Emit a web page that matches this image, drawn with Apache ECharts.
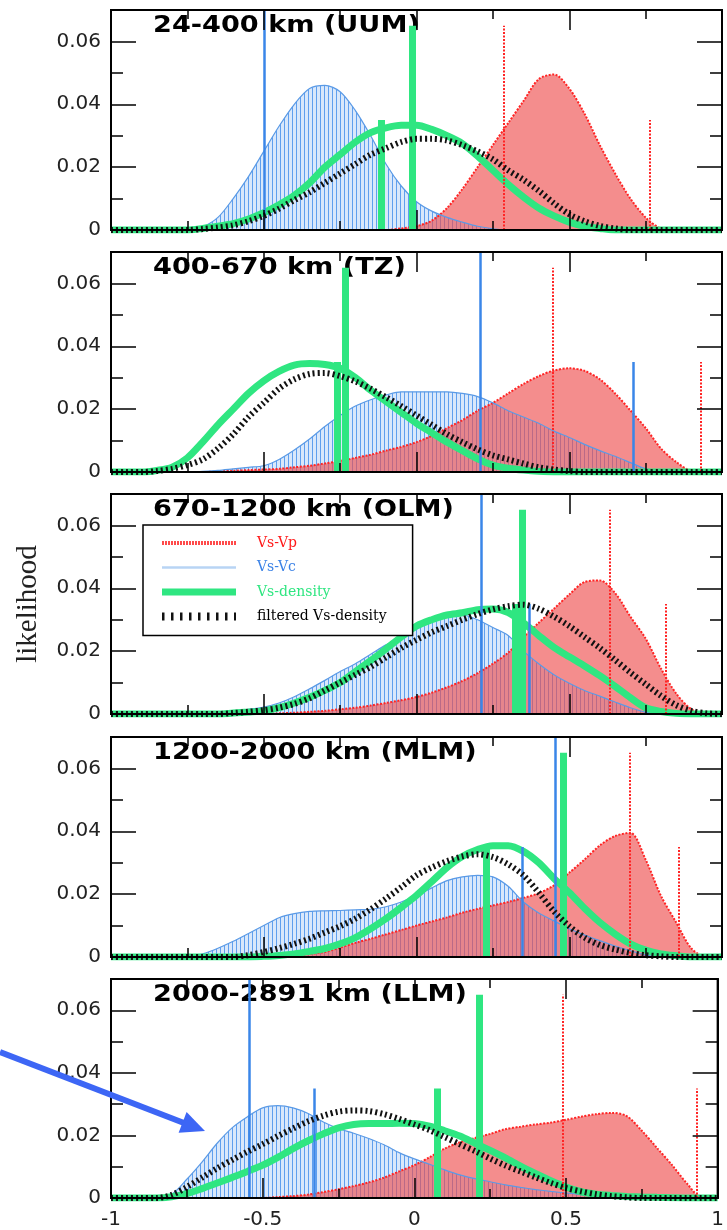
<!DOCTYPE html>
<html><head><meta charset="utf-8">
<script src="https://cdn.jsdelivr.net/npm/echarts@6/dist/echarts.min.js"></script>
<style>html,body{margin:0;padding:0;background:#fff}#c{width:727px;height:1230px}</style>
</head><body><div id="c"></div>
<script>
// sample positions (x = Vs anomaly correlation)
const xs = [-1,-0.95,-0.9,-0.85,-0.8,-0.75,-0.7,-0.65,-0.6,-0.55,-0.5,-0.45,-0.4,-0.35,-0.3,-0.25,-0.2,-0.15,-0.1,-0.05,0,0.05,0.1,0.15,0.2,0.25,0.3,0.35,0.4,0.45,0.5,0.55,0.6,0.65,0.7,0.75,0.8,0.85,0.9,0.95,1];

const panelTitles = ['24-400 km (UUM)','400-670 km (TZ)','670-1200 km (OLM)','1200-2000 km (MLM)','2000-2891 km (LLM)'];
const xTickLabels = ['-1','-0.5','0','0.5','1'];
const yTickLabels = ['0','0.02','0.04','0.06'];

// ---- 24-400 km (UUM)
const vpUUM  = [0,0,0,0,0,0,0,0,0,0,0,0,0,0,0,0,0,0,0,0.0005,0.0012,0.003,0.007,0.013,0.020,0.027,0.034,0.041,0.048,0.0495,0.045,0.037,0.027,0.018,0.010,0.004,0.0005,0,0,0,0];
const vcUUM  = [0,0,0,0,0,0,0.001,0.004,0.010,0.017,0.025,0.033,0.040,0.045,0.046,0.044,0.038,0.030,0.021,0.014,0.009,0.006,0.004,0.0025,0.0012,0.0004,0,0,0,0,0,0,0,0,0,0,0,0,0,0,0];
const denUUM = [0,0,0,0,0,0,0.0005,0.0012,0.002,0.0035,0.0055,0.008,0.011,0.015,0.020,0.024,0.028,0.031,0.0325,0.0333,0.0333,0.032,0.030,0.0275,0.0235,0.019,0.0145,0.0105,0.007,0.0045,0.0025,0.0012,0.0005,0,0,0,0,0,0,0,0];
const filUUM = [0,0,0,0,0,0,0.0003,0.0008,0.0015,0.0028,0.0045,0.0068,0.0095,0.012,0.015,0.018,0.021,0.024,0.026,0.028,0.029,0.029,0.0285,0.027,0.025,0.0225,0.019,0.016,0.0125,0.0085,0.005,0.0028,0.0013,0.0005,0,0,0,0,0,0,0];
const vpMarkUUM  = [[0.284,0.065],[0.763,0.035]];
const vcMarkUUM  = [[-0.5,0.07],[-0.008,0.035]];
const denMarkUUM = [[-0.015,0.065],[-0.115,0.035]];

// ---- 400-670 km (TZ)
const vpTZ  = [0,0,0,0,0,0,0,0.0002,0.0004,0.0006,0.0008,0.001,0.0015,0.002,0.0027,0.0035,0.0045,0.0055,0.0068,0.008,0.0095,0.0115,0.014,0.0165,0.0195,0.022,0.025,0.028,0.0305,0.0323,0.033,0.0322,0.0295,0.025,0.0196,0.014,0.0075,0.0032,0.0003,0,0];
const vcTZ  = [0,0,0,0,0,0,0.0002,0.0005,0.001,0.0015,0.002,0.004,0.007,0.0105,0.0145,0.018,0.021,0.023,0.0245,0.0255,0.0255,0.0255,0.0255,0.025,0.024,0.022,0.0195,0.0175,0.0155,0.013,0.011,0.0088,0.0068,0.005,0.003,0.001,0,0,0,0,0];
const denTZ = [0,0,0,0.0005,0.0015,0.0045,0.0095,0.015,0.020,0.025,0.029,0.032,0.034,0.0345,0.0342,0.033,0.030,0.026,0.0225,0.019,0.0155,0.0125,0.0095,0.0068,0.0042,0.0022,0.0012,0.0006,0.0002,0,0,0,0,0,0,0,0,0,0,0,0];
const filTZ = [0,0,0,0.0003,0.001,0.0022,0.004,0.0075,0.012,0.0175,0.022,0.0265,0.0295,0.0312,0.0315,0.0305,0.0288,0.0265,0.0238,0.021,0.018,0.015,0.012,0.0095,0.0072,0.0053,0.004,0.0027,0.0015,0.0008,0.0003,0,0,0,0,0,0,0,0,0,0];
const vpMarkTZ  = [[0.447,0.065],[0.93,0.035]];
const vcMarkTZ  = [[0.208,0.07],[0.71,0.035]];
const denMarkTZ = [[-0.233,0.065],[-0.258,0.035]];

// ---- 670-1200 km (OLM)
const vpOLM  = [0,0,0,0,0,0,0,0,0,0,0,0.0002,0.0004,0.0007,0.001,0.0015,0.002,0.0027,0.0035,0.0044,0.0054,0.0068,0.0085,0.0105,0.013,0.016,0.0195,0.0245,0.029,0.0335,0.038,0.042,0.0425,0.0385,0.031,0.024,0.0145,0.0065,0.0015,0,0];
const vcOLM  = [0,0,0,0,0,0,0.0002,0.0005,0.001,0.0015,0.0022,0.0035,0.0055,0.008,0.0107,0.0135,0.016,0.019,0.022,0.0245,0.027,0.0295,0.0312,0.0315,0.030,0.0275,0.025,0.020,0.016,0.0125,0.0098,0.0075,0.0057,0.0038,0.002,0.0006,0,0,0,0,0];
const denOLM = [0,0,0,0,0,0,0,0,0.0003,0.0006,0.001,0.002,0.0035,0.0053,0.0075,0.010,0.0135,0.017,0.0207,0.0245,0.028,0.030,0.0315,0.0322,0.0332,0.0334,0.0323,0.029,0.025,0.0212,0.0182,0.0153,0.0122,0.0088,0.0052,0.002,0.0008,0.0002,0,0,0];
const filOLM = [0,0,0,0,0,0,0,0,0.0003,0.0007,0.0012,0.002,0.0032,0.005,0.0075,0.010,0.0125,0.015,0.018,0.021,0.0236,0.026,0.028,0.030,0.0318,0.0333,0.0343,0.0348,0.0335,0.031,0.028,0.0245,0.021,0.0172,0.0132,0.0095,0.0058,0.0028,0.001,0.0002,0];
const vpMarkOLM  = [[0.634,0.065],[0.816,0.035]];
const vcMarkOLM  = [[0.211,0.07],[0.368,0.035]];
const denMarkOLM = [[0.345,0.065],[0.322,0.035]];

// ---- 1200-2000 km (MLM)
const vpMLM  = [0,0,0,0,0,0,0,0,0,0,0,0.0002,0.0005,0.001,0.0016,0.003,0.0045,0.0058,0.0072,0.0086,0.010,0.0113,0.0126,0.0141,0.0153,0.0164,0.0175,0.0188,0.0203,0.0228,0.0268,0.031,0.0355,0.0385,0.0395,0.031,0.0195,0.011,0.0027,0,0];
const vcMLM  = [0,0,0,0,0,0,0.001,0.0028,0.005,0.0075,0.010,0.0125,0.0138,0.0145,0.0147,0.0148,0.015,0.0152,0.016,0.0175,0.0196,0.022,0.0243,0.0255,0.026,0.0255,0.0225,0.0175,0.014,0.0115,0.009,0.007,0.0052,0.0035,0.002,0.0007,0,0,0,0,0];
const denMLM = [0,0,0,0,0,0,0,0,0,0,0.0002,0.0005,0.001,0.0018,0.0027,0.0042,0.0062,0.009,0.0122,0.0158,0.0196,0.024,0.0285,0.032,0.0342,0.0354,0.0354,0.0336,0.030,0.025,0.0205,0.0155,0.011,0.0073,0.0042,0.0022,0.001,0.0004,0,0,0];
const filMLM = [0,0,0,0,0,0,0,0,0,0.0006,0.0016,0.0028,0.0042,0.0058,0.0078,0.0098,0.0122,0.0152,0.0186,0.0222,0.026,0.0285,0.0305,0.032,0.0327,0.0318,0.0295,0.026,0.0205,0.0145,0.0098,0.0062,0.0038,0.0024,0.0013,0.0006,0.0002,0,0,0,0];
const vpMarkMLM  = [[0.699,0.065],[0.857,0.035]];
const vcMarkMLM  = [[0.454,0.07],[0.345,0.035]];
const denMarkMLM = [[0.479,0.065],[0.228,0.035]];

// ---- 2000-2891 km (LLM)
const vpLLM  = [0,0,0,0,0,0,0,0,0,0,0,0.0003,0.0006,0.0011,0.0019,0.0028,0.0038,0.005,0.0065,0.0085,0.0105,0.013,0.0158,0.0178,0.0192,0.0205,0.022,0.0228,0.0235,0.0241,0.025,0.026,0.0268,0.0272,0.0262,0.0215,0.016,0.0105,0.0045,0,0];
const vcLLM  = [0,0,0,0,0.0012,0.006,0.0115,0.0175,0.0225,0.026,0.0288,0.0295,0.0288,0.027,0.0243,0.0222,0.0207,0.019,0.017,0.0145,0.0125,0.0108,0.009,0.0074,0.0062,0.0052,0.0042,0.0034,0.0027,0.0021,0.0016,0.0011,0.0004,0,0,0,0,0,0,0,0];
const denLLM = [0,0,0,0,0.0004,0.0014,0.003,0.0048,0.0066,0.0085,0.0105,0.013,0.0158,0.0183,0.0205,0.0224,0.0235,0.0238,0.0238,0.0239,0.0238,0.023,0.0215,0.0198,0.0175,0.0152,0.0128,0.0102,0.0078,0.0055,0.0035,0.002,0.0012,0.0008,0.0005,0.0003,0.0002,0.0001,0,0,0];
const filLLM = [0,0,0,0,0.001,0.0035,0.0065,0.0095,0.0122,0.0148,0.0172,0.0198,0.0222,0.0245,0.0263,0.0276,0.028,0.0278,0.0268,0.0253,0.0235,0.0217,0.0195,0.0172,0.015,0.0126,0.0104,0.0085,0.0066,0.0048,0.0032,0.0021,0.0012,0.0006,0.0002,0,0,0,0,0,0];
const vpMarkLLM  = [[0.489,0.065],[0.93,0.035]];
const vcMarkLLM  = [[-0.544,0.07],[-0.331,0.035]];
const denMarkLLM = [[0.213,0.065],[0.076,0.035]];

const panels = [
  {vp:vpUUM, vc:vcUUM, den:denUUM, fil:filUUM, vpM:vpMarkUUM, vcM:vcMarkUUM, denM:denMarkUUM},
  {vp:vpTZ,  vc:vcTZ,  den:denTZ,  fil:filTZ,  vpM:vpMarkTZ,  vcM:vcMarkTZ,  denM:denMarkTZ},
  {vp:vpOLM, vc:vcOLM, den:denOLM, fil:filOLM, vpM:vpMarkOLM, vcM:vcMarkOLM, denM:denMarkOLM},
  {vp:vpMLM, vc:vcMLM, den:denMLM, fil:filMLM, vpM:vpMarkMLM, vcM:vcMarkMLM, denM:denMarkMLM},
  {vp:vpLLM, vc:vcLLM, den:denLLM, fil:filLLM, vpM:vpMarkLLM, vcM:vcMarkLLM, denM:denMarkLLM}
];

// ---- layout & style
const TOPS = [10, 252, 494, 737, 979], PH = 220, PL = 111, PW = 611;
const RED = '#ff2424', BLUEL = '#5a9ae6', BLUEM = '#3a86e8', GREEN = '#2fe681', BLACK = '#111';
const pc = document.createElement('canvas'); pc.width = 4; pc.height = 4;
const cx = pc.getContext('2d');
cx.fillStyle = '#d9e8fb'; cx.fillRect(0,0,4,4);
cx.fillStyle = '#5f9fee'; cx.fillRect(0,0,1,4);
const hatch = {image: pc, repeat: 'repeat'};

const chart = echarts.init(document.getElementById('c'), null, {renderer:'canvas'});
const grids=[], xAxes=[], yAxes=[], series=[];
const tickStyle = {color:'#000', width:1.5};
const labFont = {color:'#222', fontFamily:'DejaVu Sans', fontSize:20};
const pts = arr => xs.map((x,i)=>[x, arr[i]]);
const ml = (marks, style) => ({silent:true, symbol:['none','none'], label:{show:false}, animation:false,
  lineStyle:style, emphasis:{disabled:true},
  data: marks.map(m => [{coord:[m[0],0]},{coord:[m[0],m[1]]}])});

panels.forEach((p,k)=>{
  grids.push({left:PL, top:TOPS[k], width:PW, height:PH, show:true, borderColor:'#000', borderWidth:2, backgroundColor:'transparent'});
  ['bottom','top'].forEach(pos=>{
    xAxes.push({gridIndex:k, type:'value', position:pos, min:-1, max:1, interval:0.5, z:10,
      axisLine:{show:true, onZero:false, lineStyle:{color:'#000', width:2}},
      axisTick:{show:true, inside:true, length:20, lineStyle:tickStyle},
      minorTick:{show:true, splitNumber:2, length:9, lineStyle:tickStyle},
      splitLine:{show:false}, minorSplitLine:{show:false},
      axisLabel:Object.assign({show:(k===4 && pos==='bottom'), margin:12,
        formatter: v => xTickLabels[Math.round((v+1)/0.5)] ?? ''}, labFont)});
  });
  ['left','right'].forEach(pos=>{
    yAxes.push({gridIndex:k, type:'value', position:pos, min:0, max:0.07, interval:0.02, z:10,
      axisLine:{show:true, onZero:false, lineStyle:{color:'#000', width:2}},
      axisTick:{show:true, inside:true, length:25, lineStyle:tickStyle},
      splitLine:{show:false},
      axisLabel:Object.assign({show:pos==='left', showMaxLabel:false, margin:10,
        formatter: v => yTickLabels[Math.round(v/0.02)] ?? ''}, labFont),
      name:(pos==='left' && k===2) ? 'likelihood' : '', nameLocation:'middle', nameGap:68, nameRotate:90,
      nameTextStyle:{fontFamily:'Liberation Serif', fontSize:29, color:'#222'}});
    yAxes.push({gridIndex:k, type:'value', position:pos, min:0, max:0.07, interval:0.01, z:10,
      axisLine:{show:false, onZero:false}, axisTick:{show:true, inside:true, length:12, lineStyle:tickStyle},
      splitLine:{show:false}, axisLabel:{show:false}});
  });
  const xi = 2*k, yi = 4*k;
  const base = {type:'line', xAxisIndex:xi, yAxisIndex:yi, smooth:0.3, symbol:'none', showSymbol:false, animation:false, silent:true};
  series.push(Object.assign({}, base, {name:'Vs-Vc', data:pts(p.vc), z:1,
    lineStyle:{width:0, opacity:0}, itemStyle:{color:BLUEL}, areaStyle:{color:hatch, opacity:1}}));
  series.push(Object.assign({}, base, {name:'Vs-Vp', data:pts(p.vp), z:2,
    lineStyle:{color:RED, width:2, type:[2,1.5]}, itemStyle:{color:RED}, areaStyle:{color:'rgba(238,76,76,0.64)', opacity:1}}));
  series.push(Object.assign({}, base, {name:'Vs-Vc', data:pts(p.vc), z:3,
    lineStyle:{color:BLUEL, width:1.2}, itemStyle:{color:BLUEL}}));
  series.push(Object.assign({}, base, {name:'marks-vp', data:[], z:3, markLine:ml(p.vpM, {color:RED, width:2, type:[2,1.5]})}));
  series.push(Object.assign({}, base, {name:'marks-vc', data:[], z:3, markLine:ml(p.vcM, {color:BLUEM, width:2.5, type:'solid'})}));
  series.push(Object.assign({}, base, {name:'marks-den', data:[], z:3, markLine:ml(p.denM, {color:GREEN, width:7, type:'solid'})}));
  series.push(Object.assign({}, base, {name:'Vs-density', data:pts(p.den), z:4,
    lineStyle:{color:GREEN, width:7}, itemStyle:{color:GREEN}}));
  series.push(Object.assign({}, base, {name:'filtered Vs-density', data:pts(p.fil), z:5,
    lineStyle:{color:BLACK, width:6, type:[2,3]}, itemStyle:{color:BLACK}}));
});

const graphic = panelTitles.map((t,k)=>({type:'text', x:153, y:TOPS[k]+5, scaleX:1.18, z:0,
  style:{text:t, font:'bold 23px "DejaVu Sans"', fill:'#000', textAlign:'left', textVerticalAlign:'top', verticalAlign:'top'}}));
graphic.push({type:'line', z:30, shape:{x1:0, y1:1052, x2:184, y2:1123}, style:{stroke:'#3d66f5', lineWidth:6}});
graphic.push({type:'polygon', z:30, shape:{points:[[205,1131],[186.6,1112],[178.6,1132.7]]}, style:{fill:'#3d66f5'}});

chart.setOption({
  backgroundColor:'#fff',
  animation:false,
  grid:grids, xAxis:xAxes, yAxis:yAxes, series:series, graphic:graphic,
  legend:{show:true, orient:'vertical', left:143, top:525, z:20, backgroundColor:'#fff',
    borderColor:'#000', borderWidth:1.5, borderRadius:0, padding:[11,26,12,15], itemGap:10.5,
    itemWidth:74, itemHeight:14, selectedMode:false,
    itemStyle:{opacity:0, borderWidth:0},
    textStyle:{fontFamily:'DejaVu Serif', fontSize:14, padding:[0,0,0,16]},
    data:[
      {name:'Vs-Vp', textStyle:{color:'#ff1a1a'}, lineStyle:{color:'#ff4a4a', width:4, type:[2,1], opacity:1}},
      {name:'Vs-Vc', textStyle:{color:'#3b82e6'}, lineStyle:{color:'#b8d4f4', width:2.5, type:'solid', opacity:1}},
      {name:'Vs-density', textStyle:{color:GREEN}, lineStyle:{color:GREEN, width:7, type:'solid', opacity:1}},
      {name:'filtered Vs-density', textStyle:{color:'#000'}, lineStyle:{color:BLACK, width:8, type:[2.5,6.5], opacity:1}}
    ]}
});
</script>
</body></html>
